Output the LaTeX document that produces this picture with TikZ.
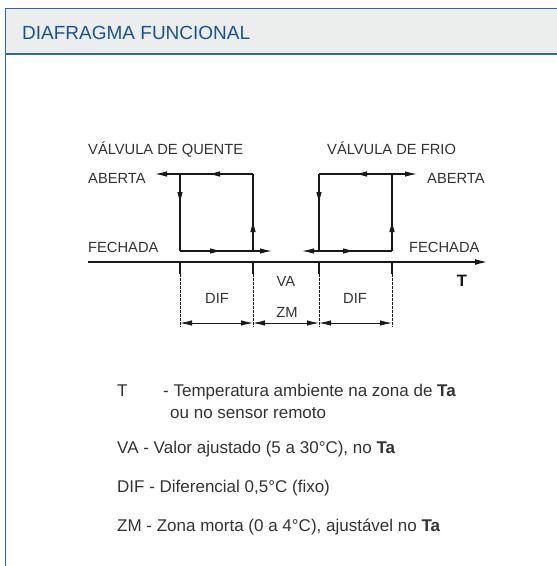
\documentclass[tikz,border=0pt]{standalone}
\usepackage{fontspec}
\setmainfont{Liberation Sans}
\usetikzlibrary{arrows.meta}
\definecolor{hdrblue}{HTML}{1B5390}
\definecolor{frameblue}{HTML}{2F67A6}
\definecolor{hdrfill}{HTML}{ECEDED}
\definecolor{ink}{HTML}{333333}
\begin{document}
\begin{tikzpicture}[x=1pt,y=-1pt,
  lbl/.style={font=\fontsize{14.7}{16}\selectfont, text=ink, inner sep=0pt, anchor=base west},
  cl/.style={font=\fontsize{14.7}{16}\selectfont, text=ink, inner sep=0pt, anchor=base},
  leg/.style={font=\fontsize{17}{19}\selectfont, text=ink, inner sep=0pt, anchor=base west},
  ln/.style={line width=1.1pt, draw=black!90},
  tipa/.style={line width=1.1pt, draw=black!90, -{Latex[length=12pt,width=5.5pt]}},
  dimline/.style={line width=0.9pt, draw=black!90, {Latex[length=12pt,width=5.5pt]}-{Latex[length=12pt,width=5.5pt]}},
  tick/.style={line width=1.1pt, draw=black!90},
  dashtick/.style={line width=0.7pt, draw=black!90, dash pattern=on 2.5pt off 1.5pt},
]
\useasboundingbox (0,0) rectangle (557,566);
\fill[white] (0,0) rectangle (557,566);
\fill[hdrfill] (5.5,8.5) rectangle (560,54);
\draw[frameblue, line width=1.8pt] (560,8.5) -- (5.5,8.5) -- (5.5,570);
\draw[frameblue, line width=1.8pt] (5.5,54) -- (560,54);
\node[anchor=base west, text=hdrblue, font=\fontsize{19}{21}\selectfont, inner sep=0] (title) at (22,39) {DIAFRAGMA FUNCIONAL};

% coordinates
\coordinate (hBL) at (180,251); \coordinate (hBR) at (253,251);
\coordinate (hTL) at (180,174); \coordinate (hTR) at (253,174);
\coordinate (hTend) at (155,174); \coordinate (hBend) at (272,251);
\coordinate (cBL) at (319,251); \coordinate (cBR) at (392,251);
\coordinate (cTL) at (319,174); \coordinate (cTR) at (392,174);
\coordinate (cTend) at (417,174); \coordinate (cBend) at (302,251);
\coordinate (ax0) at (88,262); \coordinate (ax1) at (488,262);

% axis
\draw[line width=1.8pt, draw=black!90, -{Latex[length=13pt,width=6pt]}] (ax0) -- (ax1);

% hot valve loop
\draw[ln] (hTL) -- (hBL);
\draw[ln] (hBR) -- (hTR);
\draw[tipa] (hTR) -- (hTend);
\draw[tipa] (hBL) -- (hBend);
\draw[tipa] (221,174) -- (208,174);
\draw[tipa] (180,191) -- (180,204);
\draw[tipa] (209,251) -- (222,251);
\draw[tipa] (253,233) -- (253,220);

% cold valve loop
\draw[ln] (cTL) -- (cBL);
\draw[ln] (cBR) -- (cTR);
\draw[tipa] (cTL) -- (cTend);
\draw[tipa] (cBR) -- (cBend);
\draw[tipa] (368,174) -- (355,174);
\draw[tipa] (319,191) -- (319,204);
\draw[tipa] (342,251) -- (355,251);
\draw[tipa] (392,233) -- (392,220);

% ticks
\foreach \n/\x in {t1/180,t2/253,t3/319,t4/392}{
  \coordinate (\n a) at (\x,262);
  \coordinate (\n b) at (\x,274);
  \coordinate (\n c) at (\x,327);
  \coordinate (\n d) at (\x,323);
  \draw[tick] (\n a) -- (\n b);
  \draw[dashtick] (\n b) -- (\n c);
}
\draw[dimline] (t1d) -- (t2d);
\draw[dimline] (t2d) -- (t3d);
\draw[dimline] (t3d) -- (t4d);

% labels
\node[lbl] (vq) at (88,154) {VÁLVULA DE QUENTE};
\node[lbl] (ab1) at (88,183) {ABERTA};
\node[lbl] (fe1) at (88,252) {FECHADA};
\node[lbl] (vf) at (327,154) {VÁLVULA DE FRIO};
\node[lbl] (ab2) at (427,183) {ABERTA};
\node[lbl] (fe2) at (409,252) {FECHADA};
\node[anchor=base, inner sep=0, font=\fontsize{16.5}{18}\selectfont\bfseries, text=black!90] (Tax) at (462,286) {T};
\node[cl] (va) at (286,286) {VA};
\node[cl] (zm) at (287,317) {ZM};
\node[cl] (dif1) at (217,303) {DIF};
\node[cl] (dif2) at (355,303) {DIF};

% legend
\node[leg] (lT) at (117,396) {T};
\node[leg] (lTt) at (163,396) {- Temperatura ambiente na zona de \textbf{Ta}};
\node[leg] (lT2) at (170,418) {ou no sensor remoto};
\node[leg] (lVA) at (117,453) {VA - Valor ajustado (5 a 30°C), no \textbf{Ta}};
\node[leg] (lDIF) at (117,492) {DIF - Diferencial 0,5°C (fixo)};
\node[leg] (lZM) at (117,531) {ZM - Zona morta (0 a 4°C), ajustável no \textbf{Ta}};
\end{tikzpicture}
\end{document}
